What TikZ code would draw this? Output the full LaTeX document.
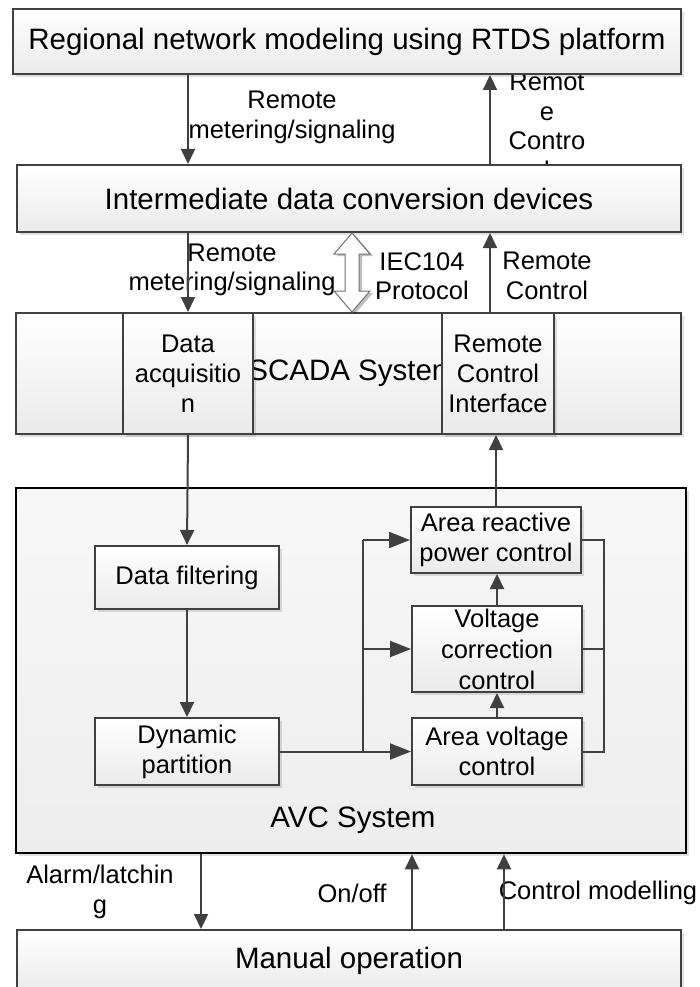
\documentclass[tikz,border=0pt]{standalone}
\usepackage{fontspec}
\setmainfont{Liberation Sans}
\usetikzlibrary{arrows.meta,shadows}
\definecolor{edge}{HTML}{404040}
\definecolor{boxbot}{HTML}{EAEAEA}
\begin{document}
\begin{tikzpicture}[x=1pt,y=-1pt,
  box/.style={draw=edge, line width=2pt, top color=white, bottom color=boxbot,
    drop shadow={shadow xshift=3pt, shadow yshift=-3pt, fill=black, opacity=0.12},
    inner sep=0pt, align=center, text=black},
  bigtxt/.style={font=\fontsize{29.5}{34}\selectfont},
  midtxt/.style={font=\fontsize{25.5}{30}\selectfont},
  lab/.style={font=\fontsize{25.5}{29.5}\selectfont, align=center, inner sep=0pt},
  conn/.style={draw=edge, line width=2pt, -{Triangle[length=15pt,width=14pt]}},
  hconn/.style={draw=edge, line width=2pt, -{Triangle[length=21pt,width=16pt]}},
  plain/.style={draw=edge, line width=2pt}]
\useasboundingbox (0,0) rectangle (699,987);
\clip (0,0) rectangle (699,987);

% label partly hidden behind boxes
\node[lab] (lrc1) at (547,126) {Remot\\e\\Contro\\l};

% boxes
\node[box, bigtxt, minimum width=668pt, minimum height=65pt] (top) at (347,41.5) {Regional network modeling using RTDS platform};
\node[box, bigtxt, minimum width=664pt, minimum height=67pt] (inter) at (349,198.5) {Intermediate data conversion devices};
\node[box, bigtxt, minimum width=665pt, minimum height=121pt] (scada) at (348.5,373.5) {\hspace*{8pt}SCADA System};
\node[box, midtxt, minimum width=130pt, minimum height=121pt] (daq) at (188,373.5) {Data\\acquisitio\\n};
\node[box, midtxt, minimum width=112pt, minimum height=121pt] (rci) at (498,373.5) {Remote\\Control\\Interface};

\node[draw=black, line width=2.5pt, top color=white!97!black, bottom color=black!7,
  drop shadow={shadow xshift=3pt, shadow yshift=-3pt, fill=black, opacity=0.12},
  minimum width=670pt, minimum height=365pt, inner sep=0pt] (avc) at (351,670.5) {};
\node[bigtxt, inner sep=0pt] (avct) at (353,820) {AVC System};

\node[box, midtxt, minimum width=184pt, minimum height=63pt] (dfilt) at (187,577.5) {Data filtering};
\node[box, midtxt, minimum width=184pt, minimum height=67pt] (dyn) at (187,751.5) {Dynamic\\partition};
\node[box, midtxt, minimum width=170pt, minimum height=66pt] (arpc) at (496,540) {Area reactive\\power control};
\node[box, midtxt, minimum width=170pt, minimum height=86pt, font=\fontsize{25.5}{31}\selectfont] (vcc) at (497,649) {Voltage\\correction\\control};
\node[box, midtxt, minimum width=170pt, minimum height=67pt] (avc2) at (497,751.5) {Area voltage\\control};

\node[box, bigtxt, minimum width=664pt, minimum height=62pt] (man) at (349,961) {Manual operation};

% other labels
\node[lab] (l1) at (292,117.5) {Remote\\metering/signaling};
\node[lab] (l3) at (232,270) {Remote\\metering/signaling};
\node[lab] (l4) at (422,276) {IEC104\\Protocol};
\node[lab] (l5) at (547,276) {Remote\\Control};
\node[lab] (l6) at (100,892) {Alarm/latchin\\g};
\node[lab] (l7) at (352,893) {On/off};
\node[lab] (l8) at (598,893) {Control modelling};

% helper coordinates
\coordinate (rc) at (490,0);
\coordinate (lbus) at (363,0);
\coordinate (rbus) at (604,0);
\coordinate (a1) at (201,0);
\coordinate (a2) at (412,0);
\coordinate (a3) at (504,0);
\coordinate (dx) at (352,0);

% connectors
\draw[conn] (top.south -| daq) -- (inter.north -| daq);
\draw[conn] (inter.north -| rc) -- (top.south -| rc);
\draw[conn] (inter.south -| daq) -- (scada.north -| daq);
\draw[conn] (scada.north -| rc) -- (inter.south -| rc);
\draw[edge!75, line width=1pt, fill=white,
  drop shadow={shadow xshift=3pt, shadow yshift=-2pt, fill=black, opacity=0.25}]
  (inter.south -| dx) -- ++(18,21) -- ++(-11,0) -- ++(0,37) -- ++(11,0)
  -- (scada.north -| dx) -- ++(-18,-21) -- ++(11,0) -- ++(0,-37) -- ++(-11,0) -- cycle;

\draw[conn] (daq.south) -- (dfilt.north);
\draw[conn] (dfilt.south) -- (dyn.north);
\draw[hconn] (dyn.east) -- (avc2.west);
\draw[plain] (dyn.east -| lbus) -- (arpc.west -| lbus);
\draw[hconn] (arpc.west -| lbus) -- (arpc.west);
\draw[hconn] (vcc.west -| lbus) -- (vcc.west);
\draw[plain] (arpc.east) -- (arpc.east -| rbus) -- (avc2.east -| rbus) -- (avc2.east);
\draw[plain] (vcc.east) -- (vcc.east -| rbus);
\draw[conn] (avc2.north) -- (vcc.south);
\draw[conn] (vcc.north) -- (vcc.north |- arpc.south);
\draw[conn] (arpc.north) -- (arpc.north |- rci.south);

\draw[conn] (avc.south -| a1) -- (man.north -| a1);
\draw[conn] (man.north -| a2) -- (avc.south -| a2);
\draw[conn] (man.north -| a3) -- (avc.south -| a3);
\end{tikzpicture}
\end{document}
